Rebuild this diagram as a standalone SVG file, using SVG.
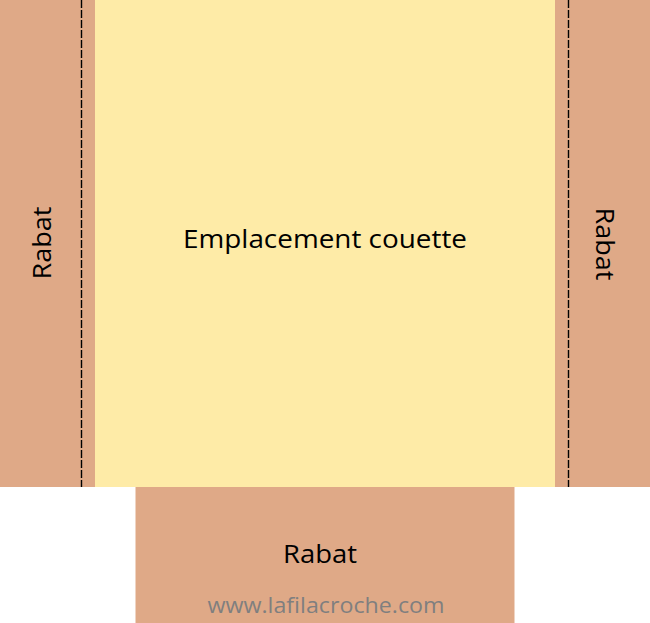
<svg xmlns="http://www.w3.org/2000/svg" width="650" height="623" viewBox="0 0 650 623">
<style>
.rabat{fill:#dfa987}
.yellow{fill:#feeba7}
.fold{stroke:#000;stroke-width:1.4;stroke-dasharray:8 2;fill:none}
.lbl{font-family:"Open Sans","Noto Sans",sans-serif;font-size:25.5px;fill:#000;text-anchor:middle}
.wm{font-family:"Open Sans","Noto Sans",sans-serif;font-size:21px;fill:#7f7f7f;text-anchor:middle}
</style>
<rect width="650" height="623" fill="#ffffff"/>
<g id="rabat-gauche">
<rect class="rabat" x="0" y="0" width="95" height="487"/>
<line class="fold" x1="81.5" y1="0" x2="81.5" y2="487"/>
<text class="lbl" transform="translate(51,243) rotate(-90)" textLength="73" lengthAdjust="spacingAndGlyphs">Rabat</text>
</g>
<g id="rabat-droit">
<rect class="rabat" x="555" y="0" width="95" height="487"/>
<line class="fold" x1="568.5" y1="0" x2="568.5" y2="487"/>
<text class="lbl" transform="translate(596,244) rotate(90)" textLength="73" lengthAdjust="spacingAndGlyphs">Rabat</text>
</g>
<g id="couette">
<rect class="yellow" x="95" y="0" width="460" height="487"/>
<text class="lbl" x="325" y="248" textLength="284" lengthAdjust="spacingAndGlyphs">Emplacement couette</text>
</g>
<g id="rabat-bas">
<rect class="rabat" x="135.5" y="487" width="379" height="136"/>
<text class="lbl" x="320" y="563" textLength="74" lengthAdjust="spacingAndGlyphs">Rabat</text>
<text class="wm" x="326" y="613" textLength="237" lengthAdjust="spacingAndGlyphs">www.lafilacroche.com</text>
</g>
<g id="connectors"/>
</svg>
